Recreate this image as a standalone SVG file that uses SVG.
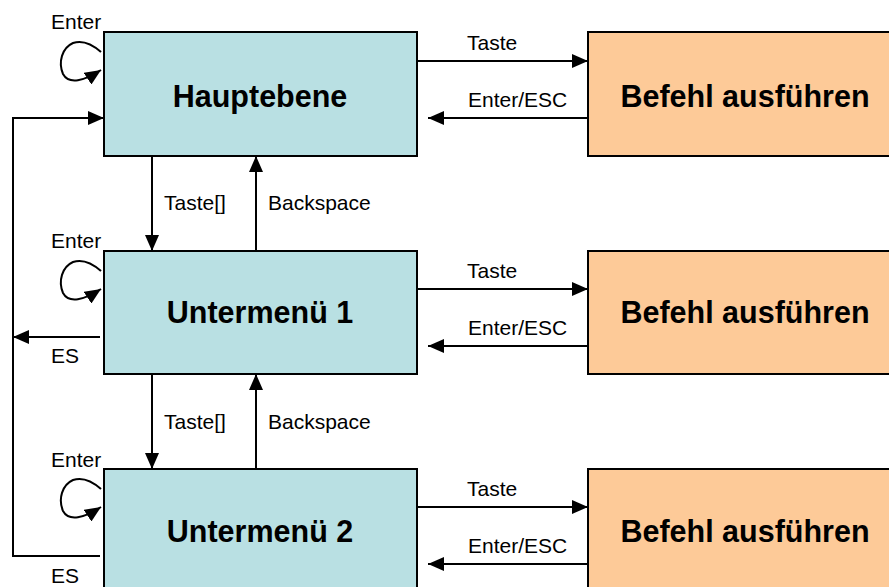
<svg xmlns="http://www.w3.org/2000/svg" width="889" height="587" viewBox="0 0 889 587">
<style>
.lbox{fill:#b9e0e3;stroke:#000;stroke-width:2}
.rbox{fill:#fdca98;stroke:#000;stroke-width:2}
.big{font-family:"Liberation Sans",Arial,sans-serif;font-weight:bold;font-size:30.5px;text-anchor:middle}
.lbl{font-family:"Liberation Sans",Arial,sans-serif;font-size:21px}
.c{fill:none;stroke:#000;stroke-width:2}
</style>
<defs>
<marker id="ahb" viewBox="0 0 16 14" refX="16" refY="7" markerWidth="16" markerHeight="14" markerUnits="userSpaceOnUse" orient="auto">
<path d="M0,0 L16,7 L0,14 Z" fill="#000"/>
</marker>
</defs>
<g id="connectors">
<!-- row 1 -->
<path class="c" d="M417,61 H588" marker-end="url(#ahb)"/>
<path class="c" d="M588,118 H428" marker-end="url(#ahb)"/>
<path class="c" d="M101,52 C92,44 82,40 73,43 C62,48 58,62 63,74 C69,85 84,81 101,70" marker-end="url(#ahb)"/>
<!-- row 2 -->
<path class="c" d="M417,289 H588" marker-end="url(#ahb)"/>
<path class="c" d="M588,346 H428" marker-end="url(#ahb)"/>
<path class="c" d="M101,271 C92,263 82,259 73,262 C62,267 58,281 63,293 C69,304 84,300 101,289" marker-end="url(#ahb)"/>
<!-- row 3 -->
<path class="c" d="M417,507 H588" marker-end="url(#ahb)"/>
<path class="c" d="M588,564 H428" marker-end="url(#ahb)"/>
<path class="c" d="M101,489 C92,481 82,477 73,480 C62,485 58,499 63,511 C69,522 84,518 101,507" marker-end="url(#ahb)"/>
<!-- vertical -->
<path class="c" d="M152,156 V251" marker-end="url(#ahb)"/>
<path class="c" d="M256,251 V156" marker-end="url(#ahb)"/>
<path class="c" d="M152,374 V469" marker-end="url(#ahb)"/>
<path class="c" d="M256,469 V374" marker-end="url(#ahb)"/>
<!-- left return -->
<path class="c" d="M100,556 H13 V118 H104" marker-end="url(#ahb)"/>
<path class="c" d="M100,337 H13" marker-end="url(#ahb)"/>
<text class="lbl" x="51" y="29">Enter</text>
<text class="lbl" x="51" y="248">Enter</text>
<text class="lbl" x="51" y="467">Enter</text>
<text class="lbl" x="467" y="50">Taste</text>
<text class="lbl" x="468" y="107">Enter/ESC</text>
<text class="lbl" x="467" y="278">Taste</text>
<text class="lbl" x="468" y="335">Enter/ESC</text>
<text class="lbl" x="467" y="496">Taste</text>
<text class="lbl" x="468" y="553">Enter/ESC</text>
<text class="lbl" x="164" y="210">Taste[]</text>
<text class="lbl" x="268" y="210">Backspace</text>
<text class="lbl" x="164" y="429">Taste[]</text>
<text class="lbl" x="268" y="429">Backspace</text>
<text class="lbl" x="51" y="363">ES</text>
<text class="lbl" x="51" y="583">ES</text>
</g>
<g id="hauptebene">
<rect class="lbox" x="104" y="32" width="313" height="124"/>
<text class="big" x="260" y="107">Hauptebene</text>
</g>
<g id="untermenu1">
<rect class="lbox" x="104" y="251" width="313" height="123"/>
<text class="big" x="260" y="323">Untermenü 1</text>
</g>
<g id="untermenu2">
<rect class="lbox" x="104" y="469" width="313" height="130"/>
<text class="big" x="260" y="542">Untermenü 2</text>
</g>
<g id="befehl1">
<rect class="rbox" x="588" y="32" width="310" height="124"/>
<text class="big" x="745" y="107">Befehl ausführen</text>
</g>
<g id="befehl2">
<rect class="rbox" x="588" y="251" width="310" height="123"/>
<text class="big" x="745" y="323">Befehl ausführen</text>
</g>
<g id="befehl3">
<rect class="rbox" x="588" y="469" width="310" height="130"/>
<text class="big" x="745" y="542">Befehl ausführen</text>
</g>
</svg>
